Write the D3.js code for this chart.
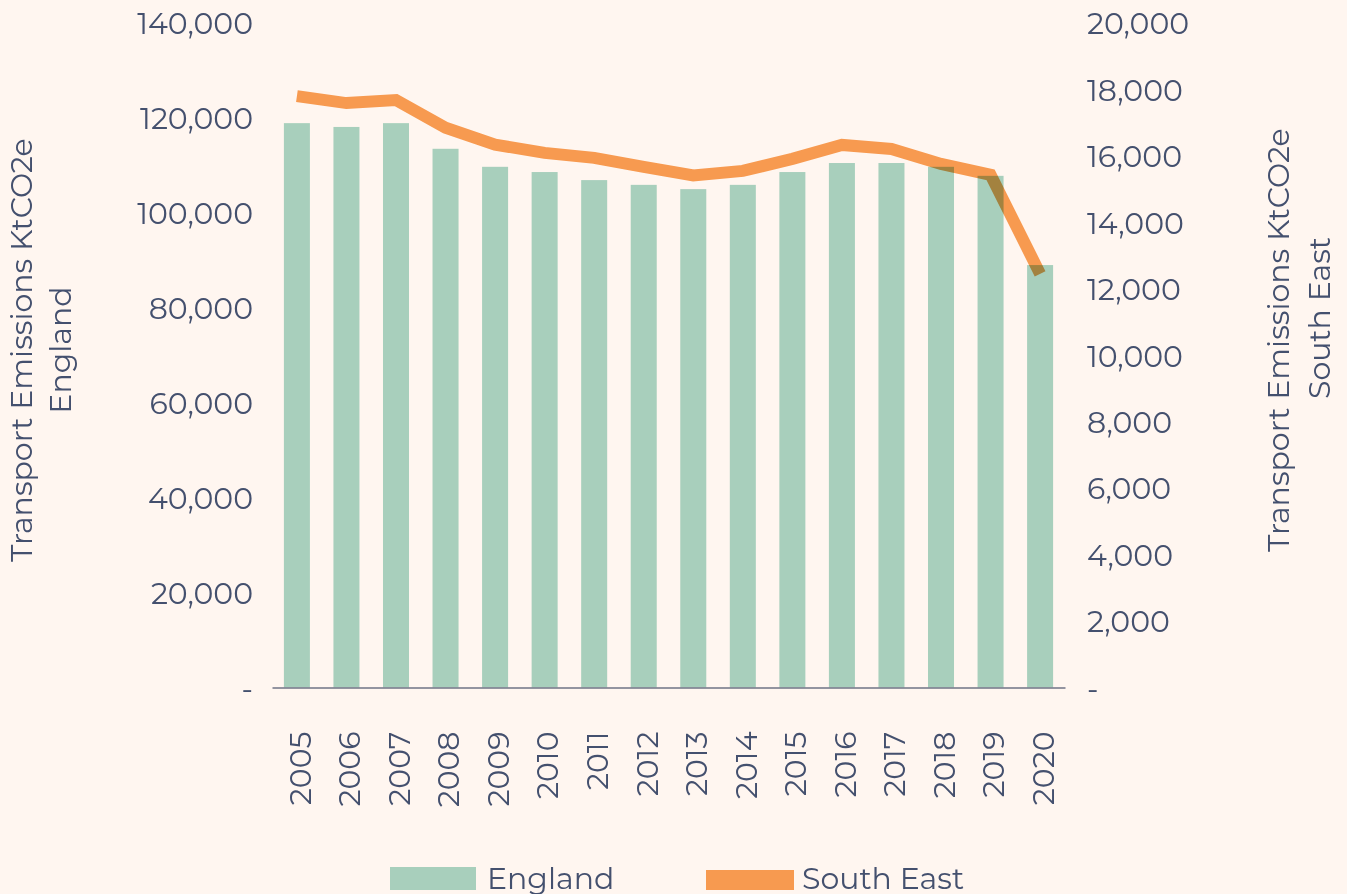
<!DOCTYPE html>
<html>
<head>
<meta charset="utf-8">
<script src="https://cdn.jsdelivr.net/npm/d3@7"></script>
<style>
  body { margin: 0; background: #FFF6F0; }
  svg { display: block; }
  text { font-family: Montserrat, "DejaVu Sans", sans-serif; fill: #44506E; }
</style>
</head>
<body>
<div class="svg-container"></div>
<script>
// chart data
var years = ["2005", "2006", "2007", "2008", "2009", "2010", "2011", "2012",
             "2013", "2014", "2015", "2016", "2017", "2018", "2019", "2020"];
var england = [118900, 118100, 118900, 113500, 109700, 108600, 106900, 105900,
               105000, 105900, 108600, 110500, 110500, 109700, 107800, 89000];
var southEast = [17800, 17590, 17680, 16850, 16340, 16090, 15940, 15670,
                 15410, 15550, 15910, 16330, 16210, 15760, 15430, 12450];
var leftTicks = [0, 20000, 40000, 60000, 80000, 100000, 120000, 140000];
var rightTicks = [0, 2000, 4000, 6000, 8000, 10000, 12000, 14000, 16000, 18000, 20000];

var W = 1347, H = 894;
var plot = {left: 272, right: 1065, top: 23, bottom: 687.5};

var svg = d3.select(".svg-container").append("svg")
    .attr("width", W)
    .attr("height", H);

svg.append("rect")
    .attr("width", W)
    .attr("height", H)
    .attr("fill", "#FFF6F0");

// scales
var xScale = d3.scaleBand().domain(years).range([plot.left, plot.right])
    .paddingInner(0.475).paddingOuter(0.24);
var yLeft = d3.scaleLinear().domain([0, 140000]).range([plot.bottom, plot.top]);
var yRight = d3.scaleLinear().domain([0, 20000]).range([plot.bottom, plot.top]);

var fmt = function (d) { return d === 0 ? "-" : d3.format(",")(d); };

// left axis labels
var gl = svg.append("g")
    .attr("transform", "translate(253,0)")
    .call(d3.axisLeft(yLeft).tickValues(leftTicks).tickSize(0).tickPadding(0).tickFormat(fmt));
gl.select(".domain").remove();
gl.selectAll("text")
    .attr("font-size", "30px")
    .attr("dy", "0.36em")
    .attr("fill", "#44506E");

// right axis labels
var gr = svg.append("g")
    .attr("transform", "translate(1087,0)")
    .call(d3.axisRight(yRight).tickValues(rightTicks).tickSize(0).tickPadding(0).tickFormat(fmt));
gr.select(".domain").remove();
gr.selectAll("text")
    .attr("font-size", "30px")
    .attr("dy", "0.36em")
    .attr("fill", "#44506E");

// bars
svg.append("g").selectAll("rect")
    .data(years)
    .enter().append("rect")
    .attr("x", function (d) { return xScale(d); })
    .attr("width", xScale.bandwidth())
    .attr("y", function (d, i) { return yLeft(england[i]); })
    .attr("height", function (d, i) { return plot.bottom - yLeft(england[i]); })
    .attr("fill", "#A8CFBC");

// line, multiplied over the bars
var line = d3.line()
    .x(function (d, i) { return xScale(years[i]) + xScale.bandwidth() / 2; })
    .y(function (d) { return yRight(d); });

svg.append("path")
    .datum(southEast)
    .attr("d", line)
    .attr("fill", "none")
    .attr("stroke", "#F7A055")
    .attr("stroke-width", 12)
    .attr("stroke-linejoin", "miter")
    .style("mix-blend-mode", "multiply");

// x axis
var gx = svg.append("g")
    .attr("transform", "translate(0," + plot.bottom + ")")
    .call(d3.axisBottom(xScale).tickSize(0).tickPadding(0));
gx.select(".domain")
    .attr("stroke", "#6F7386")
    .attr("stroke-width", 1.5);
gx.selectAll("text")
    .attr("font-size", "30px")
    .attr("fill", "#44506E")
    .attr("transform", "rotate(-90)")
    .attr("text-anchor", "end")
    .attr("x", -44)
    .attr("y", 3)
    .attr("dy", "0.36em");

// axis titles
function vtitle(x, y, str) {
    svg.append("text")
        .attr("transform", "translate(" + x + "," + y + ") rotate(-90)")
        .attr("text-anchor", "middle")
        .attr("font-size", "30px")
        .text(str);
}
vtitle(32, 350, "Transport Emissions KtCO2e");
vtitle(71, 350, "England");
vtitle(1289, 340, "Transport Emissions KtCO2e");
vtitle(1330, 318, "South East");

// legend
var legend = svg.append("g");
legend.append("rect")
    .attr("x", 390).attr("y", 867).attr("width", 86).attr("height", 23)
    .attr("fill", "#A8CFBC");
legend.append("text")
    .attr("x", 487).attr("y", 889).attr("font-size", "30px")
    .text("England");
legend.append("rect")
    .attr("x", 706).attr("y", 870).attr("width", 88).attr("height", 20)
    .attr("fill", "#F79A50");
legend.append("text")
    .attr("x", 802).attr("y", 889).attr("font-size", "30px")
    .text("South East");
</script>
</body>
</html>
